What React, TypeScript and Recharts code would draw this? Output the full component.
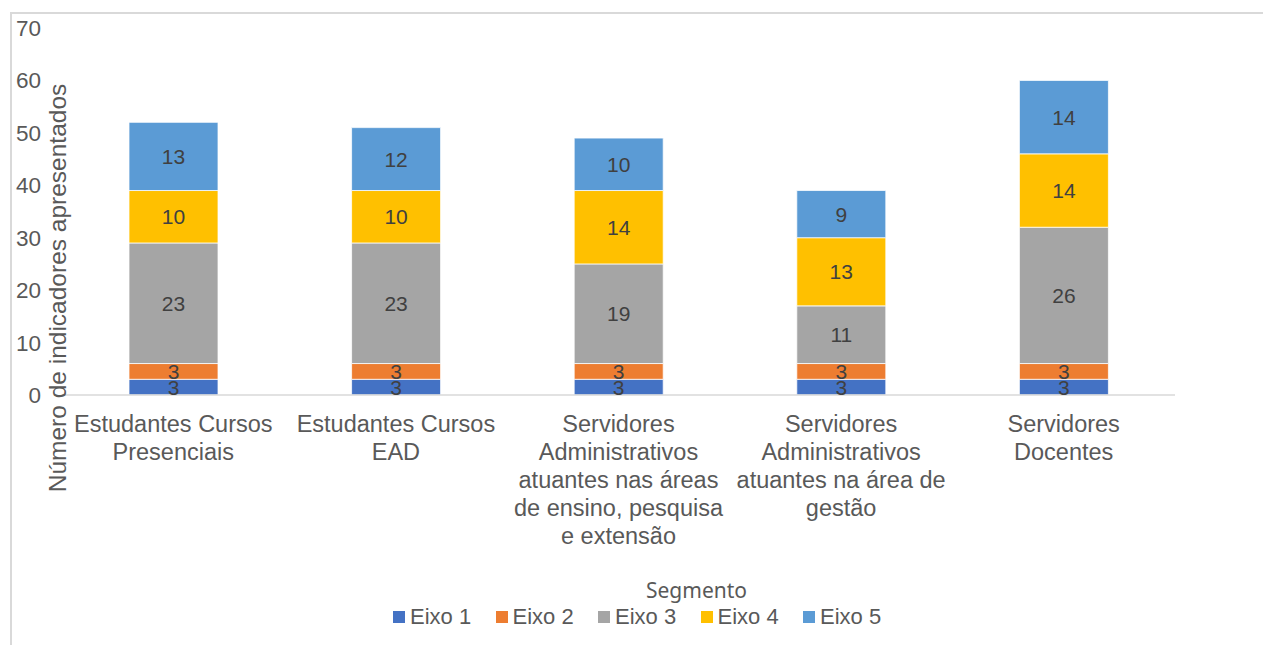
import React from "react";
import { BarChart, Bar, XAxis, YAxis, Legend, LabelList, Label } from "recharts";

// segment names, split into lines the way the original wraps them
const categoryLines = [
  ["Estudantes Cursos", "Presenciais"],
  ["Estudantes Cursos", "EAD"],
  ["Servidores", "Administrativos", "atuantes nas áreas", "de ensino, pesquisa", "e extensão"],
  ["Servidores", "Administrativos", "atuantes na área de", "gestão"],
  ["Servidores", "Docentes"],
];
const categories = categoryLines.map((l) => l.join(" "));

const eixo1 = [3, 3, 3, 3, 3];
const eixo2 = [3, 3, 3, 3, 3];
const eixo3 = [23, 23, 19, 11, 26];
const eixo4 = [10, 10, 14, 13, 14];
const eixo5 = [13, 12, 10, 9, 14];

const yTicks = [0, 10, 20, 30, 40, 50, 60, 70];

const series = [
  { key: "eixo1", name: "Eixo 1", color: "#4472C4" },
  { key: "eixo2", name: "Eixo 2", color: "#ED7D31" },
  { key: "eixo3", name: "Eixo 3", color: "#A5A5A5" },
  { key: "eixo4", name: "Eixo 4", color: "#FFC000" },
  { key: "eixo5", name: "Eixo 5", color: "#5B9BD5" },
];

const data = categories.map((name, i) => ({
  name,
  eixo1: eixo1[i],
  eixo2: eixo2[i],
  eixo3: eixo3[i],
  eixo4: eixo4[i],
  eixo5: eixo5[i],
}));

const FONT = "'Liberation Sans', Arial, sans-serif";
const GREY = "#595959";

const XTick = ({ x, y, index }: any) => {
  const lines = categoryLines[index] || [];
  return (
    <text x={x} y={y} textAnchor="middle" fill={GREY} fontSize={23.5} fontFamily={FONT}>
      {lines.map((l, i) => (
        <tspan key={i} x={x} y={y + 29 + i * 28}>
          {l}
        </tspan>
      ))}
    </text>
  );
};

const YTick = ({ y, payload }: any) => (
  <text x={41} y={y} dy={8} textAnchor="end" fill={GREY} fontSize={22.5} fontFamily={FONT}>
    {payload.value}
  </text>
);

const LegendContent = () => (
  <div style={{ width: 1263, height: 60, position: "relative", fontFamily: FONT, color: GREY }}>
    <div
      style={{
        position: "absolute",
        left: 646,
        top: 0,
        fontSize: 21,
        fontFamily: "'Noto Sans', sans-serif",
        lineHeight: "26px",
      }}
    >
      Segmento
    </div>
    {series.map((s, i) => (
      <div
        key={s.key}
        style={{
          position: "absolute",
          left: 393 + i * 102.5,
          top: 27,
          display: "flex",
          alignItems: "center",
          fontSize: 22,
          lineHeight: "26px",
        }}
      >
        <span style={{ width: 12, height: 12, background: s.color, display: "inline-block", marginRight: 5 }} />
        {s.name}
      </div>
    ))}
  </div>
);

export default function App() {
  return (
    <div style={{ position: "absolute", left: 0, top: 0, width: 1263, height: 645, background: "#fff" }}>
      <style>{`body{margin:0}`}</style>
      <div
        style={{
          position: "absolute",
          left: 10,
          top: 12,
          width: 1300,
          height: 700,
          borderLeft: "2px solid #d9d9d9",
          borderTop: "2px solid #d9d9d9",
        }}
      />
      <BarChart
        width={1263}
        height={645}
        data={data}
        margin={{ top: 28, right: 88, left: 0, bottom: 0 }}
        style={{ position: "absolute", left: 0, top: 0 }}
      >
        <XAxis
          dataKey="name"
          height={190}
          tick={<XTick />}
          tickLine={false}
          axisLine={{ stroke: "#d9d9d9", strokeWidth: 1.5 }}
          interval={0}
        />
        <YAxis
          width={62}
          domain={[0, 70]}
          ticks={yTicks}
          tick={<YTick />}
          axisLine={false}
          tickLine={false}
        >
          <Label
            content={() => (
              <text
                x={57}
                y={288}
                transform="rotate(-90 57 288)"
                textAnchor="middle"
                dominantBaseline="central"
                fill={GREY}
                fontSize={24.5}
                fontFamily={FONT}
              >
                Número de indicadores apresentados
              </text>
            )}
          />
        </YAxis>
        <Legend
          verticalAlign="bottom"
          content={<LegendContent />}
          wrapperStyle={{ position: "absolute", left: 0, top: 577, width: 1263, height: 60 }}
        />
        {series.map((s) => (
          <Bar
            key={s.key}
            dataKey={s.key}
            name={s.name}
            stackId="a"
            fill={s.color}
            stroke="#ffffff"
            strokeWidth={0.75}
            barSize={89}
            isAnimationActive={false}
          >
            <LabelList
              dataKey={s.key}
              position="center"
              fill="#404040"
              fontSize={21}
              fontFamily={FONT}
            />
          </Bar>
        ))}
      </BarChart>
    </div>
  );
}
